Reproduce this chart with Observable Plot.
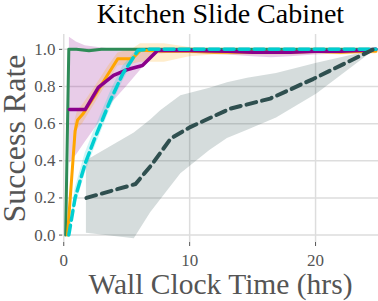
<!DOCTYPE html>
<html>
<head>
<meta charset="utf-8">
<script src="https://cdn.jsdelivr.net/npm/d3@7"></script>
<script src="https://cdn.jsdelivr.net/npm/@observablehq/plot@0.6"></script>
<style>
  html, body { margin: 0; padding: 0; background: white; }
  svg, svg g, svg text { font-family: "Liberation Serif", "DejaVu Serif", serif !important; font-variant: normal !important; font-variant-numeric: normal !important; }
</style>
</head>
<body>
<div id="chart"></div>
<script>
// ---- Data ----
const title = "Kitchen Slide Cabinet";
const xLabel = "Wall Clock Time (hrs)";
const yLabel = "Success Rate";
const xTicks = [0, 10, 20];
const yTicks = [0, 0.2, 0.4, 0.6, 0.8, 1.0];

// green (solid)
const greenX  = [0.15, 0.4, 1.0, 2.0, 3.0, 4.0, 6, 8, 10, 12, 14, 16, 18, 20, 22, 24, 24.8];
const greenY  = [0, 1.0, 1.0, 0.993, 1.0, 1.0, 1.0, 1.0, 1.0, 1.0, 1.0, 1.0, 1.0, 1.0, 1.0, 1.0, 1.0];
const greenLo = [0, 0.99, 0.99, 0.985, 0.99, 0.99, 0.99, 0.995, 0.995, 0.995, 0.995, 0.995, 0.995, 0.995, 0.995, 0.995, 0.995];
const greenHi = [0, 1.005, 1.005, 1.0, 1.005, 1.005, 1.005, 1.005, 1.005, 1.005, 1.005, 1.005, 1.005, 1.005, 1.005, 1.005, 1.005];

// orange (solid)
const orangeX  = [0.3, 0.9, 1.1, 1.5, 2.5, 3.55, 4.3, 5.45, 6.1, 8, 10, 12, 14, 16, 18, 20, 22, 24, 24.8];
const orangeY  = [0, 0.56, 0.62, 0.65, 0.755, 0.87, 0.95, 0.95, 0.995, 0.99, 0.99, 0.985, 0.985, 0.985, 0.985, 0.99, 0.985, 0.99, 0.99];
const orangeLo = [0, 0.5, 0.57, 0.6, 0.71, 0.83, 0.91, 0.92, 0.93, 0.93, 0.96, 0.97, 0.97, 0.97, 0.97, 0.975, 0.97, 0.975, 0.975];
const orangeHi = [0, 0.62, 0.67, 0.7, 0.8, 0.91, 0.98, 1.0, 1.03, 1.03, 1.01, 1.0, 1.0, 1.0, 1.0, 1.005, 1.0, 1.005, 1.005];

// purple (solid)
const purpleX  = [0.45, 1.0, 1.7, 2.75, 3.95, 5.0, 6.25, 7.45, 9, 11, 13, 15, 16.5, 18, 20, 22, 24, 24.8];
const purpleY  = [0.676, 0.676, 0.676, 0.795, 0.86, 0.89, 0.913, 0.994, 0.995, 0.992, 0.99, 0.985, 0.985, 0.985, 0.99, 0.99, 0.995, 1.0];
const purpleLo = [0.385, 0.43, 0.5, 0.6, 0.72, 0.8, 0.9, 0.975, 0.98, 0.975, 0.97, 0.96, 0.955, 0.96, 0.97, 0.975, 0.98, 0.985];
const purpleHi = [1.065, 1.04, 1.02, 1.01, 1.0, 1.0, 1.0, 1.005, 1.005, 1.005, 1.005, 1.005, 1.005, 1.005, 1.005, 1.005, 1.005, 1.005];

// cyan (dashed)
const cyanX  = [0.4, 0.9, 1.7, 2.4, 3.7, 4.7, 5.9, 6.6, 8, 10, 12, 14, 16, 18, 20, 22, 24, 24.8];
const cyanY  = [0, 0.2, 0.385, 0.51, 0.725, 0.87, 0.995, 1.0, 1.0, 1.0, 1.0, 1.0, 1.0, 1.0, 1.0, 1.0, 1.0, 1.0];
const cyanLo = [0, 0.15, 0.33, 0.46, 0.68, 0.83, 0.975, 0.995, 0.995, 0.995, 0.995, 0.995, 0.995, 0.995, 0.995, 0.995, 0.995, 0.995];
const cyanHi = [0, 0.25, 0.44, 0.56, 0.77, 0.91, 1.005, 1.005, 1.005, 1.005, 1.005, 1.005, 1.005, 1.005, 1.005, 1.005, 1.005, 1.005];

// dark slate (dashed)
const slateX  = [1.8, 5.7, 7.0, 8.5, 10.0, 13.2, 16.4, 19.8, 22.5, 24.6];
const slateY  = [0.2, 0.275, 0.38, 0.52, 0.58, 0.68, 0.735, 0.84, 0.93, 1.0];
const slateBandX = [1.8, 5.6, 6.9, 7.7, 8.5, 9.3, 11.6, 13.0, 14.6, 16.9, 20.1, 24.3, 24.6];
const slateLo    = [0.01, -0.02, 0.12, 0.19, 0.26, 0.33, 0.455, 0.52, 0.565, 0.63, 0.76, 0.975, 1.0];
const slateHi    = [0.40, 0.55, 0.62, 0.67, 0.71, 0.75, 0.79, 0.82, 0.845, 0.87, 0.925, 0.99, 1.0];

// ---- Build tables ----
const rows = (xs, ys, los, his) => xs.map((x, i) => ({x, y: ys ? ys[i] : null, lo: los ? los[i] : null, hi: his ? his[i] : null}));
const green = rows(greenX, greenY, greenLo, greenHi);
const orange = rows(orangeX, orangeY, orangeLo, orangeHi);
const purple = rows(purpleX, purpleY, purpleLo, purpleHi);
const cyan = rows(cyanX, cyanY, cyanLo, cyanHi);
const slate = rows(slateX, slateY);
const slateBand = rows(slateBandX, null, slateLo, slateHi);

const C = {green: "#2e8b57", orange: "#ffa500", purple: "#8b008b", cyan: "#00ced1", slate: "#2f4f4f"};
const bandOpacity = 0.2;
const serif = "Liberation Serif";

const band = (data, color) => Plot.areaY(data, {x: "x", y1: "lo", y2: "hi", fill: color, fillOpacity: bandOpacity});

const chart = Plot.plot({
  width: 378,
  height: 301,
  marginLeft: 62,
  marginRight: 0,
  marginTop: 34,
  marginBottom: 59,
  style: {fontFamily: serif, fontSize: "17px", color: "#555", background: "white"},
  x: {domain: [-0.1, 25]},
  y: {domain: [-0.04, 1.08]},
  marks: [
    Plot.gridX(xTicks, {stroke: "#dddddd", strokeOpacity: 1, strokeWidth: 1.5}),
    Plot.gridY(yTicks, {stroke: "#dddddd", strokeOpacity: 1, strokeWidth: 1.5}),
    Plot.axisX(xTicks, {tickSize: 4, tickPadding: 7, label: null, tickFormat: d => String(d), fontSize: 17, fontFamily: serif, stroke: "#555"}),
    Plot.axisY(yTicks, {tickSize: 3, tickPadding: 4, label: null, tickFormat: d3.format(".1f"), fontSize: 17, fontFamily: serif, stroke: "#555"}),
    band(slateBand, C.slate),
    band(purple, C.purple),
    band(orange, C.orange),
    band(cyan, C.cyan),
    band(green, C.green),
    Plot.line(green, {x: "x", y: "y", stroke: C.green, strokeWidth: 3}),
    Plot.line(orange, {x: "x", y: "y", stroke: C.orange, strokeWidth: 3}),
    Plot.line(purple, {x: "x", y: "y", stroke: C.purple, strokeWidth: 3.5}),
    Plot.line(cyan, {x: "x", y: "y", stroke: C.cyan, strokeWidth: 3.5, strokeDasharray: "10,5"}),
    Plot.line(slate, {x: "x", y: "y", stroke: C.slate, strokeWidth: 4, strokeDasharray: "10,6"}),
    Plot.text([title], {text: d => d, frameAnchor: "top", dy: -12, lineAnchor: "bottom", textAnchor: "middle", fontSize: 28, fontFamily: serif, fill: "black"}),
    Plot.text([xLabel], {text: d => d, frameAnchor: "bottom", dy: 51, lineAnchor: "bottom", textAnchor: "middle", fontSize: 29.5, fontFamily: serif, fill: "#555"}),
    Plot.text([yLabel], {text: d => d, frameAnchor: "left", dx: -38, rotate: -90, lineAnchor: "bottom", textAnchor: "middle", fontSize: 32, fontFamily: serif, fill: "#555"})
  ]
});
document.getElementById("chart").appendChild(chart);
</script>
</body>
</html>
